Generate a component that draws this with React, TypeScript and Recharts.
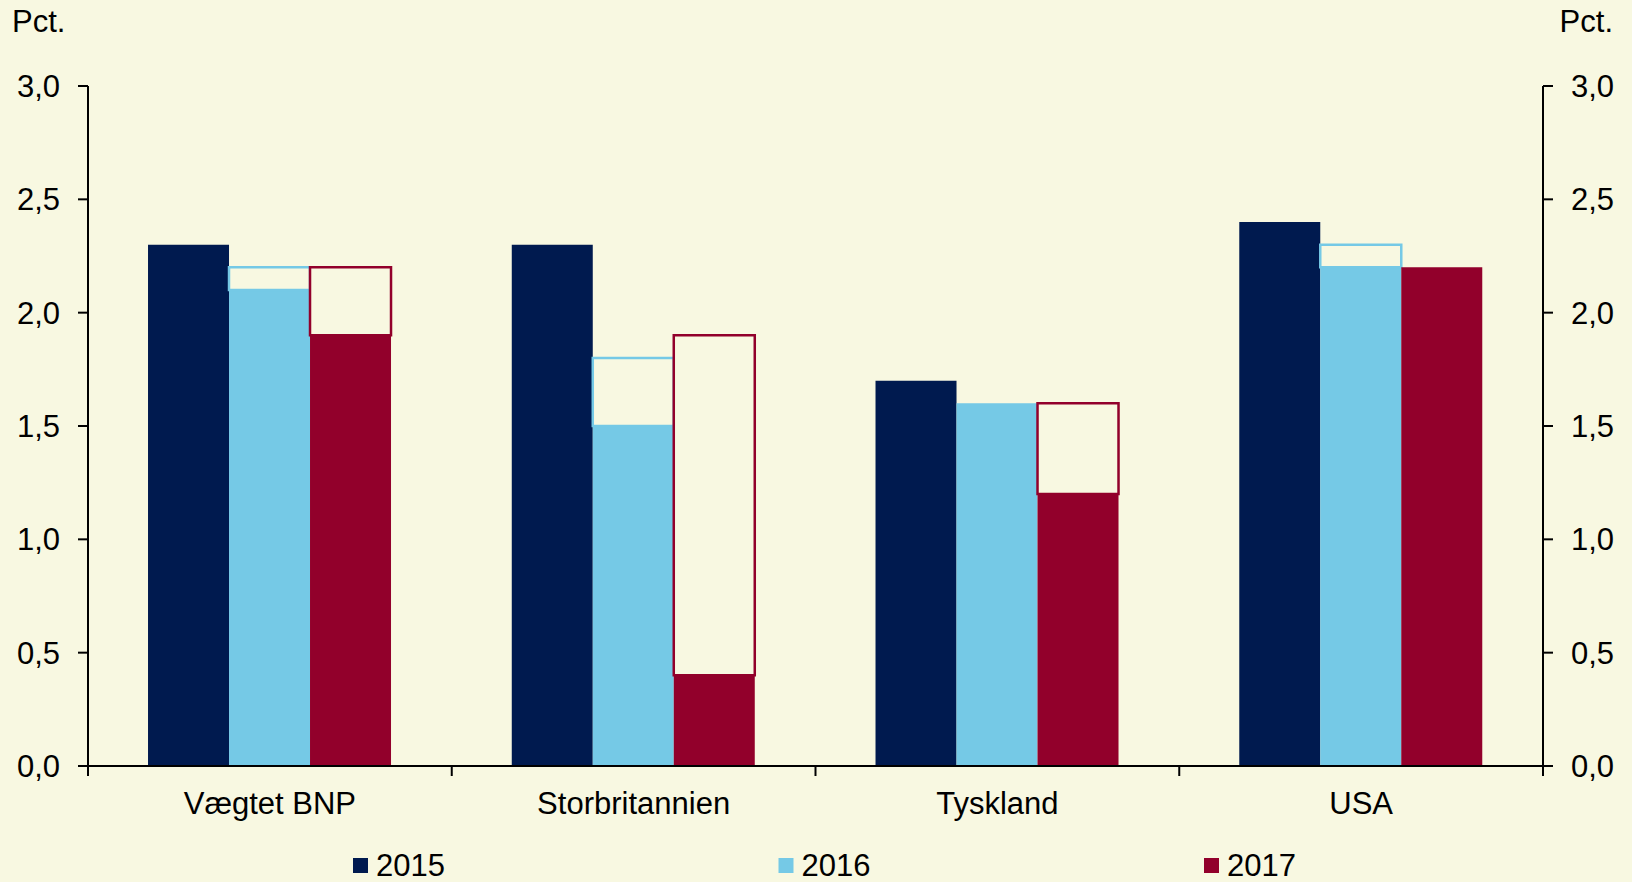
import React from "react";
import { BarChart, Bar, XAxis, YAxis, Legend } from "recharts";

if (typeof document !== "undefined") document.body.style.margin = "0";

const categories = ["Vægtet BNP", "Storbritannien", "Tyskland", "USA"];
const years = ["2015", "2016", "2017"];
const actual2015 = [2.3, 2.3, 1.7, 2.4];
const actual2016 = [2.1, 1.5, 1.6, 2.2];
const actual2017 = [1.9, 0.4, 1.2, 2.2];
// earlier forecasts, drawn as open boxes on top of the filled bars
const forecast2016 = [2.2, 1.8, 1.6, 2.3];
const forecast2017 = [2.2, 1.9, 1.6, 2.2];
const yTicks = [0, 0.5, 1, 1.5, 2, 2.5, 3];

const NAVY = "#001A4F";
const BLUE = "#75C9E6";
const RED = "#92002B";
const BG = "#F8F8E1";
const FONT = "'Liberation Sans', Arial, sans-serif";
const colors = [NAVY, BLUE, RED];

const diff = (f: number, a: number) => Math.max(0, +(f - a).toFixed(2));

const data = categories.map((name, i) => ({
  name,
  a2015: actual2015[i],
  a2016: actual2016[i],
  d2016: diff(forecast2016[i], actual2016[i]),
  a2017: actual2017[i],
  d2017: diff(forecast2017[i], actual2017[i]),
}));

const fmt = (v: number) => v.toFixed(1).replace(".", ",");

// category label in the middle, tick marks on the category borders
const CatTick = (props: any) => {
  const { x, y, payload, index, width, visibleTicksCount } = props;
  const band = width / visibleTicksCount;
  const left = x - band / 2;
  return (
    <g>
      <line x1={left} x2={left} y1={y} y2={y + 10} stroke="#000" strokeWidth={2} />
      {index === visibleTicksCount - 1 && (
        <line x1={x + band / 2} x2={x + band / 2} y1={y} y2={y + 10} stroke="#000" strokeWidth={2} />
      )}
      <text x={x} y={y + 48} textAnchor="middle" fontSize={31} fontFamily={FONT} fill="#000">
        {payload.value}
      </text>
    </g>
  );
};

const LegendContent = () => (
  <svg width={1632} height={56} style={{ display: "block", overflow: "visible" }}>
    {years.map((y, i) => {
      const x0 = 353 + i * 425.5;
      return (
        <g key={y}>
          <rect x={x0} y={32} width={15} height={15} fill={colors[i]} />
          <text x={x0 + 23} y={50} fontSize={31} fontFamily={FONT} fill="#000">
            {y}
          </text>
        </g>
      );
    })}
  </svg>
);

const PctLabel = (side: "left" | "right") => (props: any) => {
  const vb = props.viewBox;
  const x = side === "left" ? vb.x + 12 : vb.x + 70;
  return (
    <text
      x={x}
      y={vb.y - 54}
      textAnchor={side === "left" ? "start" : "end"}
      fontSize={31}
      fontFamily={FONT}
      fill="#000"
    >
      Pct.
    </text>
  );
};

const axisTick = { fontSize: 31, fontFamily: FONT, fill: "#000" };

export default function App() {
  return (
    <div style={{ width: 1632, height: 882, background: BG, overflow: "hidden" }}>
      <BarChart
        width={1632}
        height={882}
        data={data}
        margin={{ top: 86, right: 0, bottom: 0, left: 0 }}
        barCategoryGap="16.5%"
        barGap={0}
      >
        <XAxis
          xAxisId="cat"
          dataKey="name"
          interval={0}
          height={60}
          tickSize={0}
          tickMargin={0}
          tickLine={false}
          tick={<CatTick />}
          axisLine={{ stroke: "#000", strokeWidth: 2 }}
        />
        <YAxis
          yAxisId="left"
          width={88}
          domain={[0, 3]}
          allowDataOverflow
          ticks={yTicks}
          tickFormatter={fmt}
          tickSize={10}
          tickMargin={18}
          tick={axisTick}
          axisLine={{ stroke: "#000", strokeWidth: 2 }}
          tickLine={{ stroke: "#000", strokeWidth: 2 }}
          label={{ content: PctLabel("left") }}
        />
        <YAxis
          yAxisId="right"
          orientation="right"
          width={89}
          domain={[0, 3]}
          allowDataOverflow
          ticks={yTicks}
          tickFormatter={fmt}
          tickSize={10}
          tickMargin={18}
          tick={{ ...axisTick, textAnchor: "start" }}
          axisLine={{ stroke: "#000", strokeWidth: 2 }}
          tickLine={{ stroke: "#000", strokeWidth: 2 }}
          label={{ content: PctLabel("right") }}
        />
        <Legend verticalAlign="bottom" height={56} content={<LegendContent />} />
        <Bar xAxisId="cat" yAxisId="left" dataKey="a2015" stackId="y2015" fill={NAVY} isAnimationActive={false} />
        <Bar xAxisId="cat" yAxisId="left" dataKey="a2016" stackId="y2016" fill={BLUE} isAnimationActive={false} />
        <Bar
          xAxisId="cat"
          yAxisId="left"
          dataKey="d2016"
          stackId="y2016"
          fill={BG}
          stroke={BLUE}
          strokeWidth={2.5}
          isAnimationActive={false}
        />
        <Bar xAxisId="cat" yAxisId="left" dataKey="a2017" stackId="y2017" fill={RED} isAnimationActive={false} />
        <Bar
          xAxisId="cat"
          yAxisId="left"
          dataKey="d2017"
          stackId="y2017"
          fill={BG}
          stroke={RED}
          strokeWidth={2.5}
          isAnimationActive={false}
        />
      </BarChart>
    </div>
  );
}
